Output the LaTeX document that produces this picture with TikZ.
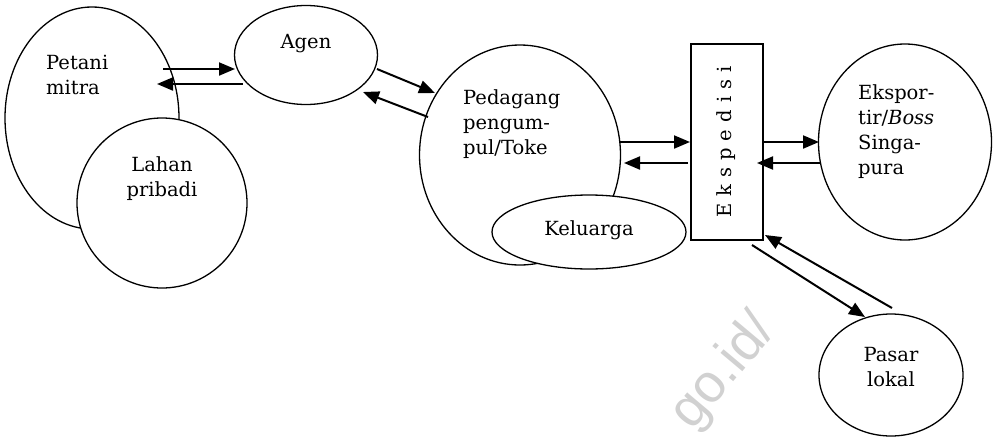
\documentclass[tikz,border=0pt]{standalone}
\usepackage{fontspec}
\setmainfont{DejaVu Serif}
\setsansfont{Liberation Sans}
\usetikzlibrary{arrows.meta,shapes.geometric}

\begin{document}
\begin{tikzpicture}[x=1pt,y=-1pt,
  lbl/.style={font=\fontsize{19.5}{25}\selectfont, align=left, inner sep=0pt},
  blob/.style={draw, line width=1.3pt, fill=white, ellipse, inner sep=0pt},
  flow/.style={line width=2pt, -{Triangle[length=16pt,width=13pt]}},
]
\useasboundingbox (0,0) rectangle (994,437);

% faint web-address stamp
\node[text=black!18, font=\sffamily\fontsize{54}{54}\selectfont, rotate=50,
      anchor=base west, inner sep=0pt] (stamp) at (692,432) {go.id/};

% farmer group and own land
\node[blob, minimum width=174, minimum height=222] (petani) at (92,118) {};
\node[blob, circle, minimum size=170] (lahan) at (162,203) {};
\node[lbl, anchor=west] (petanitxt) at (46,75) {Petani\\mitra};
\node[lbl, align=center] (lahantxt) at (162,179) {Lahan\\pribadi};

% agent
\node[blob, minimum width=143, minimum height=99] (agen) at (306,55) {};
\node[lbl] (agentxt) at (306,44) {Agen};

% collector trader with family
\node[blob, minimum width=201, minimum height=220] (pedagang) at (520,155) {};
\node[blob, minimum width=194, minimum height=74] (keluarga) at (589,232) {};
\node[lbl, anchor=west] (pedagangtxt) at (463,124) {Pedagang\\pengum-\\pul/Toke};
\node[lbl] (keluargatxt) at (589,230) {Keluarga};

% forwarding
\node[draw, line width=1.3pt, minimum width=72, minimum height=196, inner sep=0pt] (eksp) at (727,142) {};
\node[lbl, rotate=90] (eksptxt) at (726,142)
  {E\hspace{7pt}k\hspace{7pt}s\hspace{7pt}p\hspace{7pt}e\hspace{7pt}d\hspace{7pt}i\hspace{7pt}s\hspace{7pt}i};

% exporter
\node[blob, minimum width=173, minimum height=196] (ekspor) at (905,142) {};
\node[lbl, anchor=west] (eksportxt) at (858,132) {Ekspor-\\tir/\textit{Boss}\\Singa-\\pura};

% local market
\node[blob, minimum width=144, minimum height=122] (pasar) at (891,375) {};
\node[lbl, align=center] (pasartxt) at (891,367) {Pasar\\lokal};

% arrow end points
\coordinate (pa1) at (163,69);  \coordinate (pa2) at (235,69);
\coordinate (ap1) at (243,84);  \coordinate (ap2) at (157,84);
\coordinate (ag1) at (377,69);  \coordinate (ag2) at (435,93);
\coordinate (ga1) at (428,117); \coordinate (ga2) at (363,92);
\coordinate (pe1) at (620,142); \coordinate (pe2) at (690,142);
\coordinate (ep1) at (688,163); \coordinate (ep2) at (624,163);
\coordinate (ex1) at (762,142); \coordinate (ex2) at (819,142);
\coordinate (xe1) at (820,163); \coordinate (xe2) at (757,163);
\coordinate (ps1) at (892,308); \coordinate (ps2) at (765,235);
\coordinate (sp1) at (752,245); \coordinate (sp2) at (865,317);

\draw[flow] (pa1) -- (pa2);
\draw[flow] (ap1) -- (ap2);
\draw[flow] (ag1) -- (ag2);
\draw[flow] (ga1) -- (ga2);
\draw[flow] (pe1) -- (pe2);
\draw[flow] (ep1) -- (ep2);
\draw[flow] (ex1) -- (ex2);
\draw[flow] (xe1) -- (xe2);
\draw[flow] (ps1) -- (ps2);
\draw[flow] (sp1) -- (sp2);
\end{tikzpicture}
\end{document}
